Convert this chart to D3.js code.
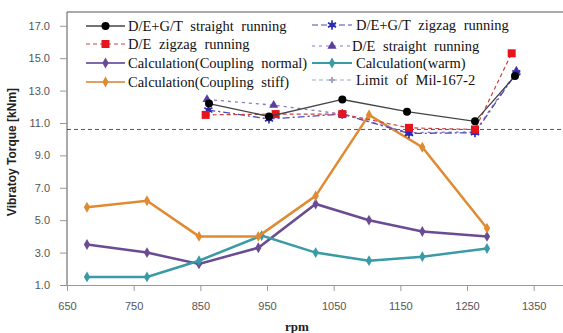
<!DOCTYPE html>
<html>
<head>
<meta charset="utf-8">
<script src="https://cdn.jsdelivr.net/npm/d3@7"></script>
<style>
  body { margin: 0; background: #fff; }
  svg { display: block; }
</style>
</head>
<body>
<svg width="563" height="333"></svg>
<script>
// calculated series
const rpmCalc = [680, 770, 848, 937, 1023, 1103, 1183, 1280];
const rpmWarm = [680, 770, 848, 942, 1023, 1103, 1183, 1280];
const calcNormal = [3.5, 3.0, 2.3, 3.3, 6.0, 5.0, 4.3, 4.0];
const calcStiff = [5.8, 6.2, 4.0, 4.0, 6.5, 11.5, 9.5, 4.5];
const calcWarm = [1.5, 1.5, 2.5, 4.05, 3.0, 2.5, 2.75, 3.25];

// measured series
const rpmDeGtStraight = [863, 953, 1063, 1160, 1262, 1322];
const deGtStraight = [12.2, 11.4, 12.45, 11.7, 11.1, 13.9];
const rpmDeZigzag = [858, 963, 1063, 1163, 1262, 1317];
const deZigzag = [11.5, 11.55, 11.55, 10.7, 10.6, 15.3];
const rpmDeGtZigzag = [862, 953, 1063, 1163, 1262, 1324];
const deGtZigzag = [11.8, 11.25, 11.55, 10.35, 10.4, 14.1];
const rpmDeStraight = [860, 960, 1063, 1163, 1262, 1324];
const deStraight = [12.45, 12.1, 11.55, 10.4, 10.45, 14.2];

const limitMil = 10.6;

const xTicks = [650, 750, 850, 950, 1050, 1150, 1250, 1350];
const yTicks = [1, 3, 5, 7, 9, 11, 13, 15, 17];

const svg = d3.select('svg');
const x = d3.scaleLinear().domain([650, 1400]).range([67, 567]);
const y = d3.scaleLinear().domain([1, 17.85]).range([285, 12]);

// frame
svg.append('line').attr('x1', 67).attr('x2', 567).attr('y1', 12).attr('y2', 12)
    .attr('stroke', '#555').attr('stroke-width', 1);
svg.append('line').attr('x1', 67).attr('x2', 67).attr('y1', 12).attr('y2', 285)
    .attr('stroke', '#555').attr('stroke-width', 1);

const xAxis = svg.append('g').attr('transform', 'translate(0,285)')
    .call(d3.axisBottom(x).tickValues(xTicks).tickSize(6).tickSizeOuter(0).tickFormat(d3.format('d')));
xAxis.select('.domain').attr('stroke', '#999');
xAxis.selectAll('.tick line').attr('stroke', '#999');
xAxis.selectAll('.tick text').attr('fill', '#555').attr('font-family', 'Liberation Sans, Arial, sans-serif')
    .attr('font-size', 11).attr('dy', '1.45em');

const yAxis = svg.append('g').attr('transform', 'translate(67,0)')
    .call(d3.axisLeft(y).tickValues(yTicks).tickSize(7).tickSizeOuter(0).tickFormat(d3.format('.1f')));
yAxis.select('.domain').remove();
yAxis.selectAll('.tick line').attr('stroke', '#999');
yAxis.selectAll('.tick text').attr('fill', '#555').attr('font-family', 'Liberation Sans, Arial, sans-serif')
    .attr('font-size', 11).attr('x', -17);

svg.append('text')
    .attr('transform', 'translate(16,152) rotate(-90)')
    .attr('text-anchor', 'middle')
    .attr('font-family', 'Liberation Sans, Arial, sans-serif')
    .attr('font-weight', 'bold').attr('font-size', 12).attr('fill', '#222')
    .text('Vibratoy Torque [kNm]');
svg.append('text')
    .attr('x', 297).attr('y', 331)
    .attr('text-anchor', 'middle')
    .attr('font-family', 'Liberation Serif, Times New Roman, serif')
    .attr('font-weight', 'bold').attr('font-size', 13).attr('fill', '#222')
    .text('rpm');

function marker(g, type, cx, cy, color) {
    if (type === 'circle') {
        g.append('circle').attr('cx', cx).attr('cy', cy).attr('r', 4).attr('fill', color);
    } else if (type === 'square') {
        g.append('rect').attr('x', cx - 4).attr('y', cy - 4).attr('width', 8).attr('height', 8).attr('fill', color);
    } else if (type === 'diamond') {
        g.append('path').attr('d', d3.symbol(d3.symbolDiamond, 34)()).attr('transform', `translate(${cx},${cy})`).attr('fill', color);
    } else if (type === 'triangle') {
        g.append('path').attr('d', d3.symbol(d3.symbolTriangle, 36)()).attr('transform', `translate(${cx},${cy})`).attr('fill', color);
    } else if (type === 'star') {
        g.append('path').attr('d', d3.symbol(d3.symbolAsterisk, 60)()).attr('transform', `translate(${cx},${cy})`)
            .attr('fill', 'none').attr('stroke', color).attr('stroke-width', 1.6);
        g.append('circle').attr('cx', cx).attr('cy', cy).attr('r', 2.5).attr('fill', color);
    } else if (type === 'plus') {
        g.append('path').attr('d', d3.symbol(d3.symbolCross, 20)()).attr('transform', `translate(${cx},${cy})`).attr('fill', color);
    }
}

const series = [
    {xs: rpmCalc, ys: calcNormal, color: '#6a4c92', lineColor: '#6a4c92', width: 2.5, dash: null, mark: 'diamond'},
    {xs: rpmWarm, ys: calcWarm, color: '#3a9aa6', lineColor: '#3a9aa6', width: 2.5, dash: null, mark: 'diamond'},
    {xs: rpmCalc, ys: calcStiff, color: '#e08a32', lineColor: '#e08a32', width: 2.5, dash: null, mark: 'diamond'},
    {xs: rpmDeStraight, ys: deStraight, color: '#5b3d9e', lineColor: '#8a78c0', width: 1.3, dash: '3,4', mark: 'triangle'},
    {xs: rpmDeGtZigzag, ys: deGtZigzag, color: '#2a2ab0', lineColor: '#4a4ab8', width: 1.3, dash: '7,3,2,3', mark: 'star'},
    {xs: rpmDeZigzag, ys: deZigzag, color: '#e8141c', lineColor: '#d04040', width: 1.2, dash: '4,3', mark: 'square'},
    {xs: rpmDeGtStraight, ys: deGtStraight, color: '#000', lineColor: '#444', width: 1.3, dash: null, mark: 'circle'}
];

const line = d3.line().x(d => x(d[0])).y(d => y(d[1]));

// limit line
svg.append('line').attr('x1', 67).attr('x2', 567).attr('y1', y(limitMil)).attr('y2', y(limitMil))
    .attr('stroke', '#444').attr('stroke-width', 0.9).attr('stroke-dasharray', '4,3');

series.forEach(function(s) {
    const pts = s.xs.map((v, i) => [v, s.ys[i]]);
    svg.append('path').datum(pts).attr('d', line)
        .attr('fill', 'none').attr('stroke', s.lineColor).attr('stroke-width', s.width)
        .attr('stroke-dasharray', s.dash);
    const g = svg.append('g');
    pts.forEach(p => marker(g, s.mark, x(p[0]), y(p[1]), s.color));
});

// legend
const legendLeft = [
    {label: 'D/E+G/T straight running', color: '#000', lineColor: '#444', dash: null, width: 1.3, mark: 'circle', cy: 26, tx: 128},
    {label: 'D/E zigzag running', color: '#e8141c', lineColor: '#d04040', dash: '4,3', width: 1.2, mark: 'square', cy: 44, tx: 128},
    {label: 'Calculation(Coupling normal)', color: '#6a4c92', lineColor: '#7d6aa8', dash: null, width: 2, mark: 'diamond', cy: 63, tx: 128},
    {label: 'Calculation(Coupling stiff)', color: '#e08a32', lineColor: '#e0a060', dash: null, width: 2, mark: 'diamond', cy: 82, tx: 128}
];
const legendRight = [
    {label: 'D/E+G/T zigzag running', color: '#2a2ab0', lineColor: '#4a4ab8', dash: '6,3', width: 1.2, mark: 'star', cy: 25, tx: 356},
    {label: 'D/E straight running', color: '#5b3d9e', lineColor: '#8a78c0', dash: '3,4', width: 1.2, mark: 'triangle', cy: 46, tx: 352},
    {label: 'Calculation(warm)', color: '#3a9aa6', lineColor: '#3a9aa6', dash: null, width: 2, mark: 'diamond', cy: 63, tx: 356},
    {label: 'Limit of Mil-167-2', color: '#a0a8c0', lineColor: '#a0a8c0', dash: '4,3', width: 1.2, mark: 'plus', cy: 80, tx: 356}
];

function drawLegend(items, x0, x1) {
    items.forEach(function(it) {
        svg.append('line').attr('x1', x0).attr('x2', x1).attr('y1', it.cy).attr('y2', it.cy)
            .attr('stroke', it.lineColor).attr('stroke-width', it.width).attr('stroke-dasharray', it.dash);
        marker(svg, it.mark, (x0 + x1) / 2, it.cy, it.color);
        svg.append('text').attr('x', it.tx).attr('y', it.cy + 5)
            .attr('font-family', 'Liberation Serif, Times New Roman, serif')
            .attr('font-size', 14.5).attr('word-spacing', 4).attr('fill', '#111')
            .text(it.label);
    });
}
drawLegend(legendLeft, 86, 125);
drawLegend(legendRight, 312, 352);
</script>
</body>
</html>
